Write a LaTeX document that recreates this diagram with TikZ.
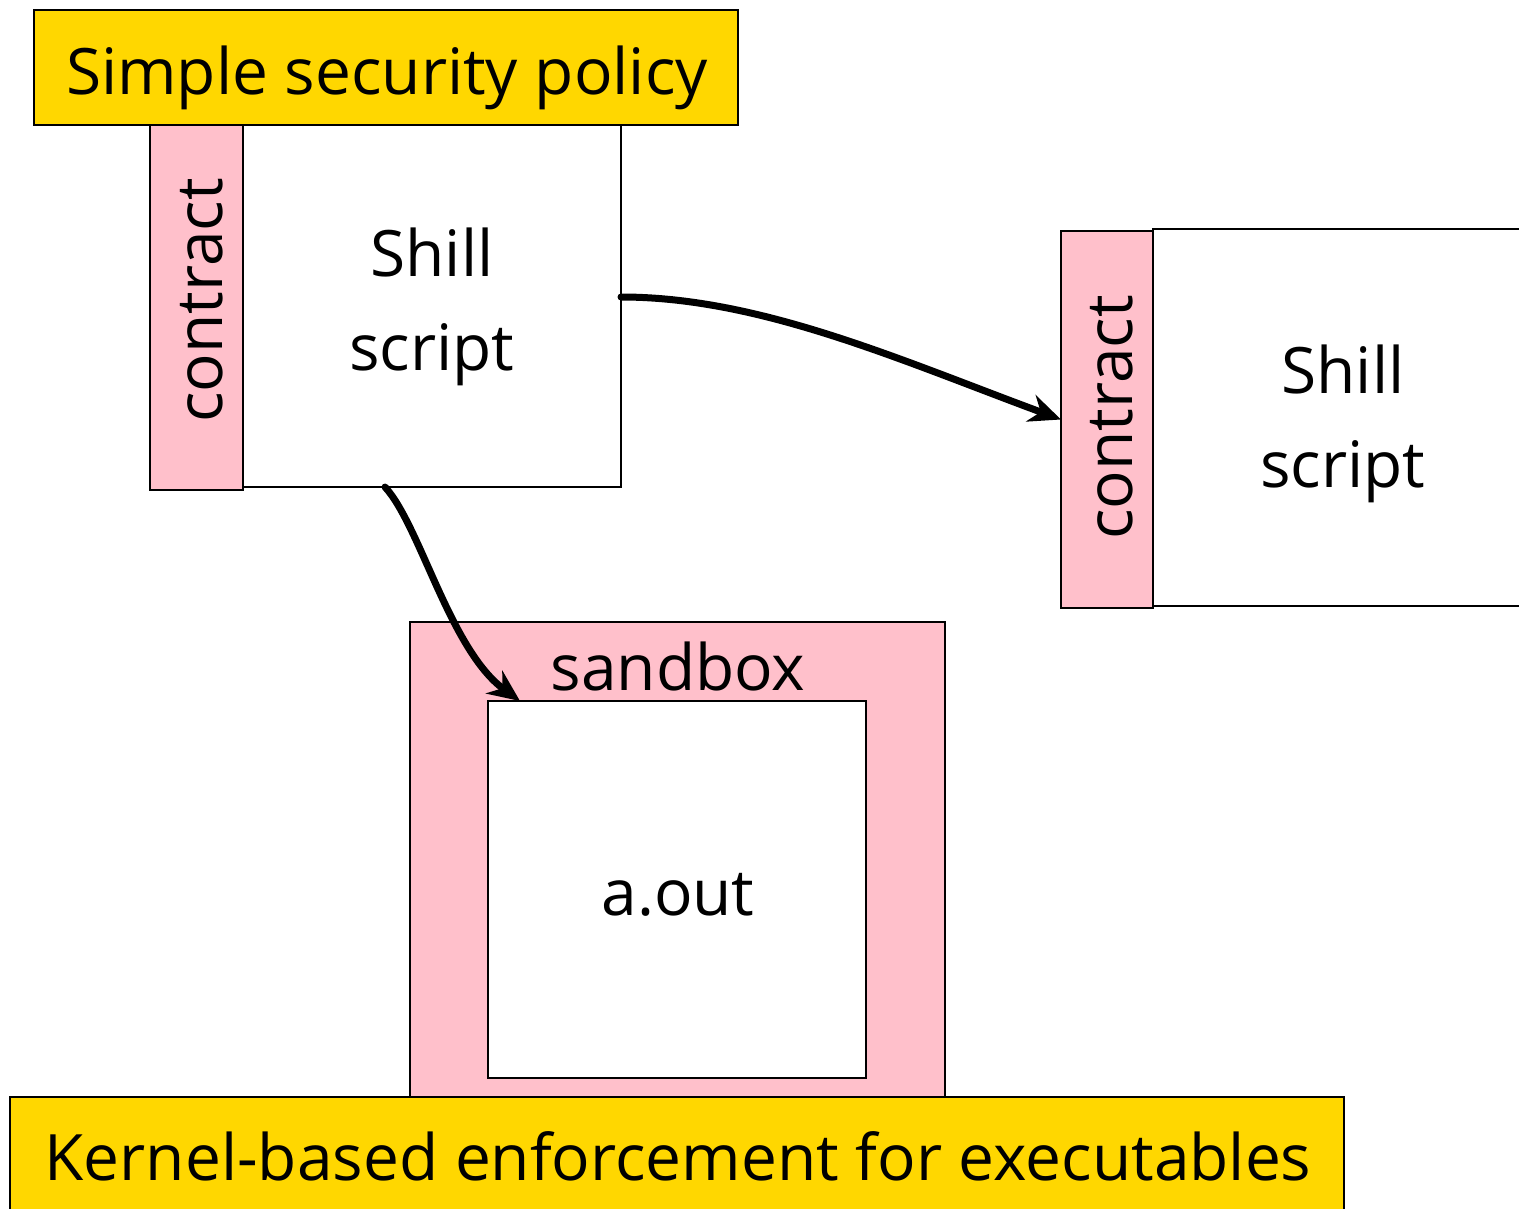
\documentclass[tikz,border=0pt]{standalone}
\usepackage{fontspec}
\setmainfont{Open Sans}
\usetikzlibrary{arrows.meta}
\definecolor{gold}{HTML}{FFD700}
\definecolor{pinkc}{HTML}{FFC0CB}
\tikzset{
  box/.style={draw=black, line width=1.5pt, inner sep=0pt, outer sep=0pt},
  ybox/.style={box, fill=gold},
  pbox/.style={box, fill=pinkc},
  wbox/.style={box, fill=white},
  lbl/.style={font=\fontsize{64}{94}\selectfont, align=center},
  conn/.style={line width=7pt, line cap=round, -{Stealth[length=32pt,width=28pt]}},
}
\begin{document}
\begin{tikzpicture}[x=1pt,y=-1pt]
\useasboundingbox (0,0) rectangle (1519,1209);
\clip (0,0) rectangle (1519,1209);
% left group
\node[pbox, minimum width=93pt, minimum height=365pt] (c1) at (196.5,307.5) {};
\node[wbox, minimum width=378pt, minimum height=362pt] (s1) at (432,306) {};
\node[ybox, minimum width=704pt, minimum height=115pt] (pol) at (386,67.5) {};
\node[lbl, anchor=base] (polt) at (387,95) {Simple security policy};
\node[lbl, rotate=90] (c1t) at ([xshift=5pt,yshift=7pt]c1.center) {contract};
\node[lbl] (s1t) at ([yshift=-1pt]s1.center) {Shill\\script};
% right group
\node[wbox, minimum width=380pt, minimum height=377pt] (s2) at (1343,417.5) {};
\node[pbox, minimum width=92pt, minimum height=377pt] (c2) at (1107,419.5) {};
\node[lbl, rotate=90] (c2t) at ([xshift=5pt,yshift=2pt]c2.center) {contract};
\node[lbl] (s2t) at ([yshift=-6pt]s2.center) {Shill\\script};
% sandbox
\node[pbox, minimum width=535pt, minimum height=475pt] (sb) at (677.5,859.5) {};
\node[wbox, minimum width=378pt, minimum height=377pt] (ao) at (677,889.5) {};
\node[lbl, anchor=base] (sbt) at (678,690) {sandbox};
\node[lbl, anchor=base] (aot) at (678,915) {a.out};
% bottom
\node[ybox, minimum width=1334pt, minimum height=115pt] (ker) at (677,1154.5) {};
\node[lbl, anchor=base] (kert) at (678,1180) {Kernel-based enforcement for executables};
% arrows
\coordinate (a1s) at ([yshift=9pt]s1.east);
\coordinate (a2s) at ([xshift=-47pt]s1.south);
\coordinate (a2e) at ([xshift=32pt]ao.north west);
\draw[conn] (a1s) .. controls (760,297) and (900,360) .. (c2.west);
\draw[conn] (a2s) .. controls (420,525) and (450,650) .. (a2e);
\end{tikzpicture}
\end{document}
